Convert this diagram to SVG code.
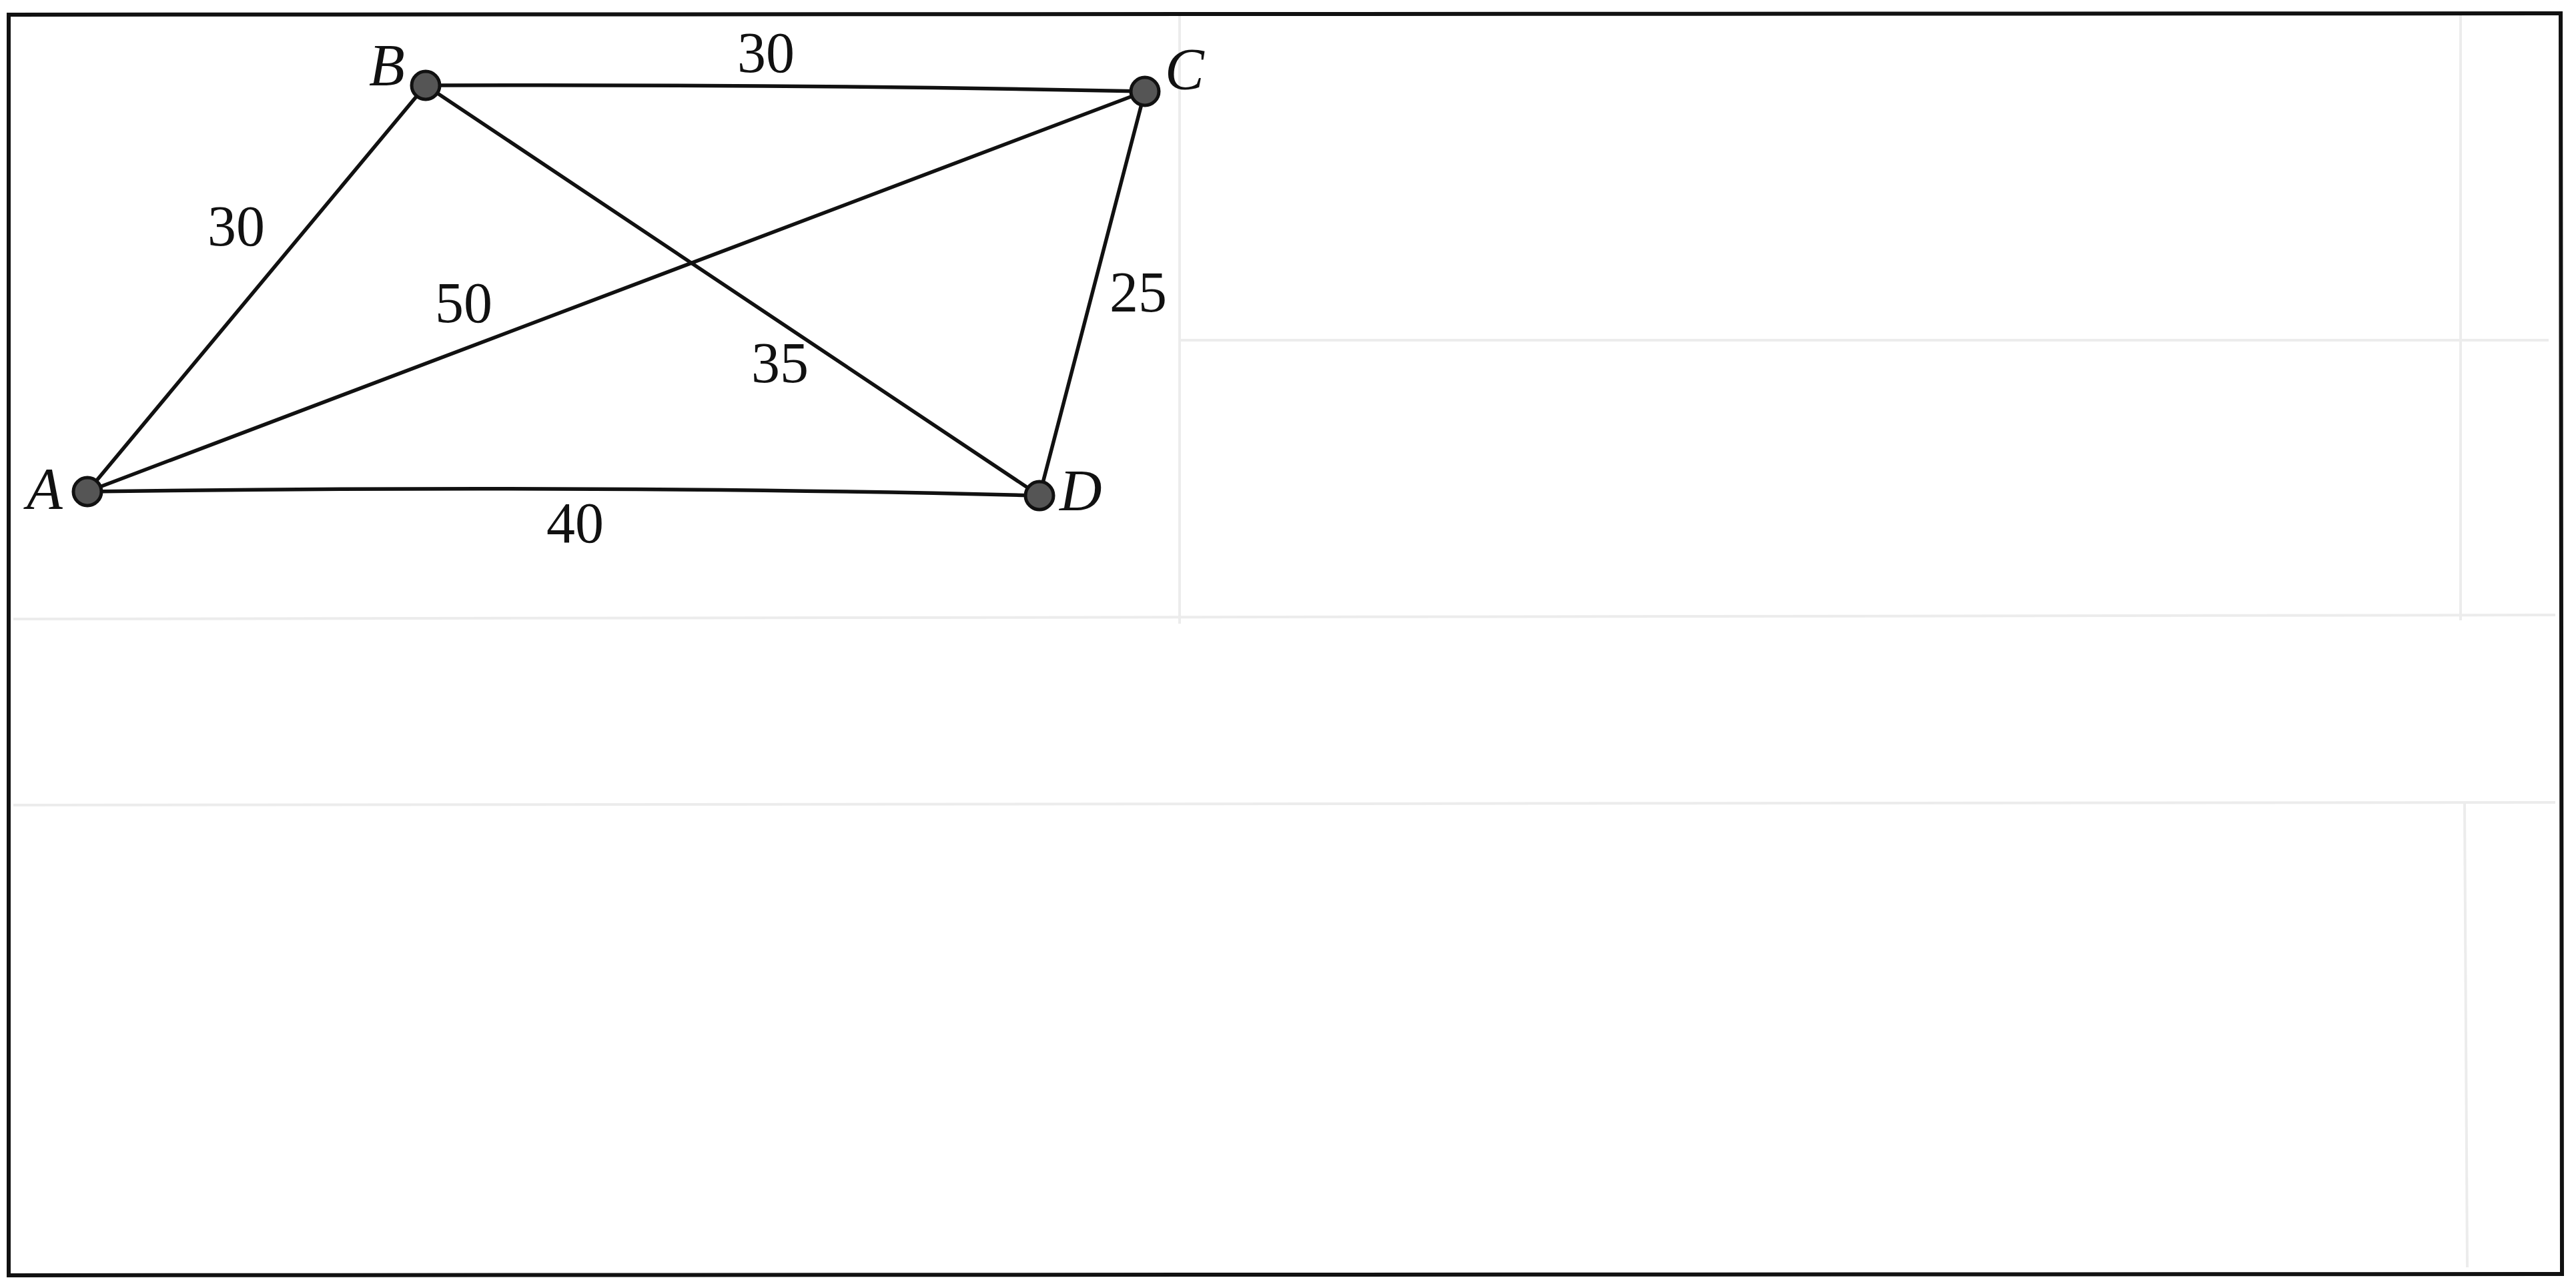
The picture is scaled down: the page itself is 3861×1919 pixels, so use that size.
<svg xmlns="http://www.w3.org/2000/svg" width="3861" height="1919" viewBox="0 0 3861 1919">
<style>
.edge{stroke:#111;stroke-width:5.5;fill:none;stroke-linecap:round}
.node{fill:#555;stroke:#111;stroke-width:5}
.lbl{font-family:"Liberation Serif","Times New Roman",serif;font-style:italic;font-size:88px;fill:#111}
.w{font-family:"Liberation Serif","Times New Roman",serif;font-size:86px;fill:#111;text-anchor:middle}
.faint{stroke:#ececec;stroke-width:4;fill:none}
</style>
<rect width="3861" height="1919" fill="#fff"/>
<g id="bleed">
<line class="faint" x1="1768" y1="20" x2="1768" y2="935"/>
<line class="faint" x1="3688" y1="20" x2="3688" y2="930"/>
<line class="faint" x1="1768" y1="510" x2="3820" y2="510"/>
<line class="faint" x1="20" y1="928" x2="3830" y2="922"/>
<line class="faint" x1="20" y1="1207" x2="3830" y2="1203"/>
<line class="faint" x1="3694" y1="1205" x2="3698" y2="1900"/>
</g>
<path id="frame" d="M13,22 L3838,20 L3840,1910 L13,1912 Z" fill="none" stroke="#111" stroke-width="6"/>
<g id="connectors">
<line class="edge" x1="131" y1="737" x2="638" y2="128"/>
<path class="edge" d="M638,128 Q1200,126 1716,137"/>
<line class="edge" x1="131" y1="737" x2="1716" y2="137"/>
<line class="edge" x1="638" y1="128" x2="1558" y2="743"/>
<line class="edge" x1="1716" y1="137" x2="1558" y2="743"/>
<path class="edge" d="M131,737 Q900,726 1558,743"/>
<text class="w" x="354" y="368">30</text>
<text class="w" x="1148" y="108">30</text>
<text class="w" x="695" y="483">50</text>
<text class="w" x="1169" y="573">35</text>
<text class="w" x="1706" y="467">25</text>
<text class="w" x="862" y="813">40</text>
</g>
<g id="node-A"><circle class="node" cx="131" cy="737" r="21"/><text class="lbl" x="40" y="762">A</text></g>
<g id="node-B"><circle class="node" cx="638" cy="128" r="21"/><text class="lbl" x="553" y="127">B</text></g>
<g id="node-C"><circle class="node" cx="1716" cy="137" r="21"/><text class="lbl" x="1746" y="133">C</text></g>
<g id="node-D"><circle class="node" cx="1558" cy="743" r="21"/><text class="lbl" x="1588" y="765">D</text></g>
</svg>
